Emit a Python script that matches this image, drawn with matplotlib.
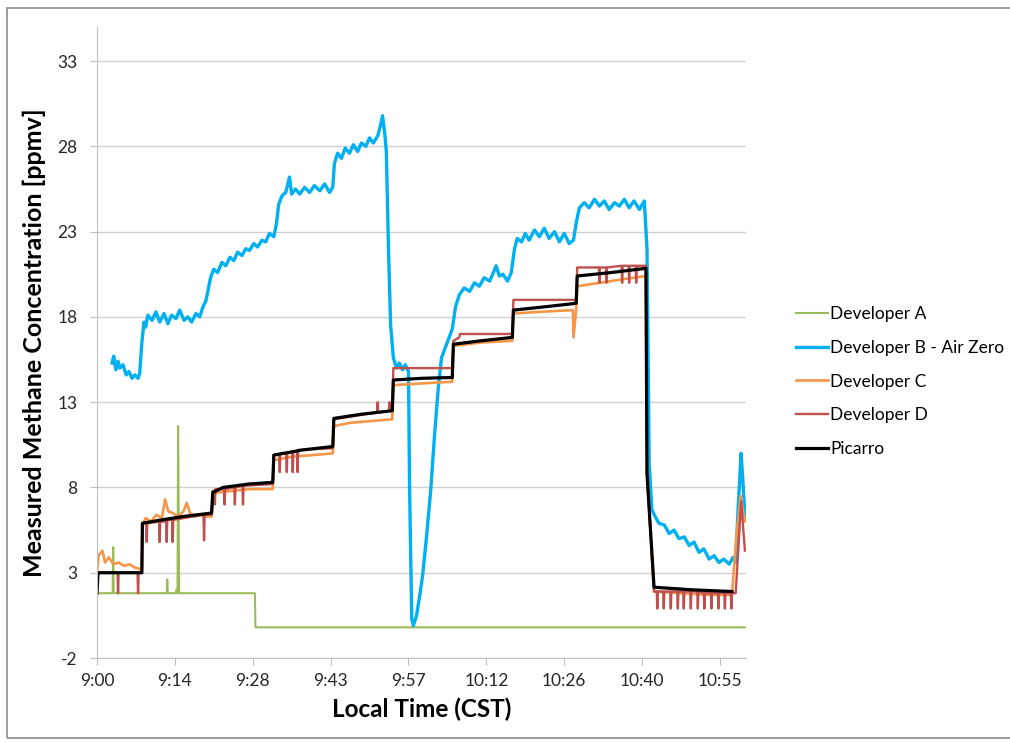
import numpy as np
import matplotlib
matplotlib.use("Agg")
import matplotlib.pyplot as plt
from matplotlib.patches import Rectangle

plt.rcParams['font.family'] = ['Lato', 'DejaVu Sans']
plt.rcParams['axes.unicode_minus'] = False

# time is given in minutes after 9:00, converted to fraction of a day below
tick_labels = ["9:00", "9:14", "9:28", "9:43", "9:57", "10:12", "10:26", "10:40", "10:55"]
y_ticks = [-2, 3, 8, 13, 18, 23, 28, 33]

# Developer A
a_min = [0, 2.9, 3.0, 3.1, 12.9, 13.0, 13.1, 14.6, 14.7, 14.8, 14.9, 15.0, 15.2, 29.2, 29.3, 119.8]
a_val = [1.8, 1.8, 4.5, 1.8, 1.8, 2.6, 1.8, 1.8, 2.0, 1.8, 1.8, 11.6, 1.8, 1.8, -0.2, -0.2]

# Developer B - Air Zero
b_min = [2.8, 3.1, 3.5, 3.9, 4.2, 4.8, 5.4, 5.9, 6.5, 7.0, 7.6, 7.9, 8.3, 8.7, 9.0, 9.4,
         10.2, 10.9, 11.6, 12.4, 13.1, 13.8, 14.6, 15.3, 16.1, 16.8, 17.5, 18.3, 19.0, 19.6,
         20.1, 20.5, 21.0, 21.6, 22.3, 23.1, 23.8, 24.6, 25.3, 26.0, 26.8, 27.5, 28.2, 29.0,
         29.7, 30.5, 31.2, 31.9, 32.7, 33.2, 33.6, 34.2, 34.9, 35.6, 36.0, 36.7, 37.5, 38.4,
         39.3, 40.2, 41.2, 42.1, 43.0, 43.6, 43.9, 44.5, 45.2, 45.9, 46.7, 47.4, 48.2, 48.9,
         49.7, 50.4, 51.1, 51.9, 52.4, 52.8, 53.2, 53.5, 53.9, 54.3, 54.8, 55.4, 55.9, 56.5,
         57.0, 57.6, 57.8, 58.2, 58.5, 59.1, 59.6, 60.2, 60.9, 61.7, 62.4, 63.1, 63.7, 64.4,
         65.2, 65.7, 66.3, 67.0, 67.9, 68.9, 69.8, 70.7, 71.6, 72.6, 73.3, 73.8, 74.4, 75.1,
         75.9, 76.6, 77.2, 77.7, 78.5, 79.2, 79.9, 80.9, 81.8, 82.7, 83.6, 84.6, 85.5, 86.4,
         87.3, 88.1, 88.6, 89.2, 90.1, 91.0, 92.0, 92.9, 93.8, 94.7, 95.7, 96.6, 97.5, 98.4,
         99.3, 100.3, 101.2, 101.7, 102.1, 102.6, 103.2, 103.9, 104.9, 105.8, 106.7, 107.6,
         108.6, 109.5, 110.4, 111.3, 112.2, 113.2, 114.1, 115.0, 115.9, 116.9, 117.6, 118.1,
         118.5, 119.1, 119.4, 119.8]
b_val = [15.3, 15.7, 14.9, 15.4, 15.0, 15.2, 14.6, 14.8, 14.4, 14.6, 14.4, 14.7, 16.5, 17.7, 17.4, 18.1,
         17.8, 18.3, 17.7, 18.2, 17.6, 18.1, 17.9, 18.4, 17.8, 18.0, 17.7, 18.2, 18.0, 18.6,
         18.9, 19.5, 20.3, 20.8, 20.6, 21.2, 21.0, 21.5, 21.3, 21.8, 21.6, 22.0, 21.9, 22.3,
         22.1, 22.5, 22.4, 22.9, 22.7, 23.5, 24.6, 25.1, 25.3, 26.2, 25.2, 25.5, 25.2, 25.6,
         25.3, 25.7, 25.4, 25.8, 25.3, 25.6, 27.0, 27.6, 27.3, 27.9, 27.6, 28.1, 27.7, 28.2,
         28.0, 28.5, 28.2, 28.6, 29.2, 29.8, 28.8, 27.7, 22.0, 17.5, 15.6, 15.0, 15.3, 14.9,
         15.2, 14.8, 8.0, 0.3, -0.1, 0.5, 1.5, 2.8, 5.0, 7.8, 11.0, 13.8, 15.6, 16.2,
         16.9, 17.3, 18.6, 19.3, 19.7, 19.5, 20.0, 19.8, 20.3, 20.1, 20.6, 21.0, 20.4, 20.5,
         20.1, 20.6, 22.0, 22.6, 22.4, 22.9, 22.5, 23.1, 22.7, 23.2, 22.6, 23.0, 22.4, 22.9,
         22.3, 22.5, 23.5, 24.4, 24.7, 24.4, 24.9, 24.5, 24.8, 24.3, 24.7, 24.5, 24.9, 24.4,
         24.8, 24.3, 24.8, 22.0, 9.4, 6.7, 6.3, 5.9, 5.8, 5.3, 5.5, 5.0,
         5.1, 4.6, 4.8, 4.2, 4.4, 3.8, 4.0, 3.6, 3.8, 3.5, 3.9, 3.6,
         6.5, 10.0, 8.5, 6.3]

# Developer C
c_min = [0, 0.3, 1.0, 1.5, 2.2, 3.0, 4.0, 5.0, 6.0, 7.0, 8.3, 8.4, 9.0, 10.0, 11.0, 12.0,
         12.6, 13.2, 14.0, 15.0, 16.0, 16.6, 17.2, 18.0, 19.0, 20.0, 21.2, 21.4, 22.0, 25.0,
         28.0, 32.5, 32.7, 36.0, 40.0, 43.6, 43.8, 47.0, 51.0, 54.6, 54.8, 60.0, 65.7, 65.9,
         71.0, 76.8, 77.0, 82.0, 88.0, 88.1, 88.6, 88.8, 93.0, 97.0, 101.5, 101.7, 103.0,
         108.0, 113.0, 117.4, 118.2, 119.0, 119.8]
c_val = [3.0, 4.0, 4.3, 3.6, 3.9, 3.5, 3.6, 3.4, 3.5, 3.3, 3.2, 5.8, 6.2, 6.0, 6.4, 6.2,
         7.3, 6.6, 6.5, 6.3, 6.6, 7.1, 6.5, 6.3, 6.4, 6.3, 6.3, 7.4, 7.7, 7.8,
         7.9, 7.9, 9.6, 9.8, 9.9, 10.0, 11.6, 11.8, 11.9, 12.0, 14.0, 14.1, 14.2, 16.3,
         16.5, 16.6, 18.2, 18.3, 18.4, 16.8, 18.4, 19.8, 20.0, 20.2, 20.4, 8.8, 1.9,
         1.8, 1.7, 1.7, 5.0, 7.5, 6.0]

# Developer D
d_min = [0, 0.2, 3.8, 3.9, 4.0, 7.5, 7.6, 7.7, 8.3, 8.4,
         9.1, 9.2, 9.3, 11.5, 11.6, 11.7, 12.8, 12.9, 13.0, 13.9, 14.0, 14.1, 19.7, 19.8, 19.9, 21.2,
         21.4, 21.7, 21.8, 21.9, 23.5, 23.6, 23.7, 25.4, 25.5, 25.6, 26.9, 27.0, 27.1, 32.5,
         32.7, 33.7, 33.8, 33.9, 35.0, 35.1, 35.2, 36.1, 36.2, 36.3, 37.0, 37.1, 37.2, 43.6,
         43.8, 51.8, 51.9, 52.0, 54.0, 54.1, 54.2, 54.6,
         54.8, 65.7, 65.9, 67.0, 67.1, 71.0, 76.8,
         77.0, 88.6,
         88.8, 92.8, 92.9, 93.0, 94.1, 94.2, 94.3, 97.0, 97.1, 97.2, 98.3, 98.4, 98.5,
         99.6, 99.7, 99.8, 101.5, 101.7, 103.0,
         103.5, 103.6, 103.7, 104.7, 104.8, 104.9, 106.0, 106.1, 106.2, 107.3, 107.4, 107.5,
         108.4, 108.5, 108.6, 109.7, 109.8, 109.9, 111.0, 111.1, 111.2, 112.2, 112.3, 112.4,
         113.5, 113.6, 113.7, 114.8, 114.9, 115.0, 116.0, 116.1, 116.2, 117.2, 117.3, 117.4,
         118.1, 119.1, 119.8]
d_val = [1.8, 3.0, 3.0, 1.8, 3.0, 3.0, 1.8, 3.0, 3.0, 5.9,
         5.9, 4.8, 5.9, 6.0, 4.8, 6.0, 6.0, 4.8, 6.1, 6.1, 4.8, 6.1, 6.4, 4.9, 6.4, 6.4,
         7.8, 7.8, 7.0, 7.9, 7.9, 7.0, 7.9, 8.0, 7.0, 8.0, 8.1, 7.0, 8.1, 8.2,
         9.9, 9.9, 8.9, 10.0, 10.0, 8.9, 10.0, 10.1, 8.9, 10.1, 10.1, 8.9, 10.2, 10.3,
         12.0, 12.4, 13.0, 12.4, 12.5, 13.0, 12.5, 12.5,
         15.0, 15.0, 16.6, 16.8, 17.0, 17.0, 17.0,
         19.0, 19.0,
         20.9, 20.9, 20.0, 20.9, 20.9, 20.0, 20.9, 21.0, 20.0, 21.0, 21.0, 20.0, 21.0,
         21.0, 20.0, 21.0, 21.0, 8.8, 1.9,
         1.9, 0.9, 1.9, 1.9, 0.9, 1.9, 1.9, 0.9, 1.9, 1.9, 0.9, 1.9,
         1.9, 0.9, 1.9, 1.9, 0.9, 1.9, 1.9, 0.9, 1.9, 1.8, 0.9, 1.8,
         1.8, 0.9, 1.8, 1.8, 0.9, 1.8, 1.8, 0.9, 1.8, 1.8, 0.9, 1.8,
         1.8, 7.2, 4.3]

# Picarro
p_min = [0, 0.2, 8.3, 8.4, 12.0, 16.0, 21.2, 21.4, 23.3, 28.0, 32.5, 32.7, 38.0, 43.6,
         43.8, 49.0, 54.6, 54.8, 60.0, 65.7, 65.9, 71.0, 76.8, 77.0, 83.0, 88.6, 88.8,
         95.0, 101.5, 101.7, 103.0, 110.0, 117.4]
p_val = [1.8, 3.0, 3.0, 5.9, 6.1, 6.3, 6.5, 7.7, 8.0, 8.2, 8.3, 9.9, 10.2, 10.4,
         12.05, 12.3, 12.5, 14.3, 14.4, 14.45, 16.4, 16.6, 16.8, 18.4, 18.6, 18.8, 20.4,
         20.6, 20.85, 8.8, 2.15, 2.0, 1.9]

def to_day(minutes):
    return 0.375 + np.array(minutes) / 1440.0

fig = plt.figure(figsize=(10.1, 7.42), dpi=100)
ax = fig.add_axes([0.096, 0.1132, 0.6426, 0.8504])

ax.plot(to_day(a_min), a_val, color='#9BBB59', lw=1.5, label='Developer A')
ax.plot(to_day(b_min), b_val, color='#00B0F0', lw=2.4, label='Developer B - Air Zero')
ax.plot(to_day(c_min), c_val, color='#F79646', lw=1.9, label='Developer C')
ax.plot(to_day(d_min), d_val, color='#C0504D', lw=1.7, label='Developer D')
ax.plot(to_day(p_min), p_val, color='black', lw=2.3, label='Picarro')

ax.set_xlim(0.375, 0.375 + 120 / 1440)
ax.set_ylim(-2, 35)
ax.set_yticks(y_ticks)
ax.set_xticks([0.375 + 0.01 * i for i in range(len(tick_labels))])
ax.set_xticklabels(tick_labels)
ax.tick_params(axis='both', labelsize=12.5, length=5, color='#BFBFBF', labelcolor='#262626')
ax.tick_params(axis='y', pad=9)
ax.tick_params(axis='x', pad=6)
ax.grid(axis='y', color='#D0D0D0', lw=1)
ax.set_axisbelow(True)
for s in ['top', 'right']:
    ax.spines[s].set_visible(False)
for s in ['left', 'bottom']:
    ax.spines[s].set_color('#BFBFBF')

ax.set_ylabel('Measured Methane Concentration [ppmv]', fontsize=18, fontweight='bold', labelpad=8)
ax.set_xlabel('Local Time (CST)', fontsize=17.5, fontweight='bold', labelpad=6)

fig.legend(loc='upper left', bbox_to_anchor=(0.773, 0.6085), frameon=False, fontsize=12.5,
           handlelength=1.84, handletextpad=0.1, labelspacing=1.02)

fig.patches.append(Rectangle((0.0065, 0.005), 1.1, 0.984, transform=fig.transFigure,
                             fill=False, edgecolor='#8C8C8C', lw=1.2))

fig.savefig('out.png', dpi=100)
